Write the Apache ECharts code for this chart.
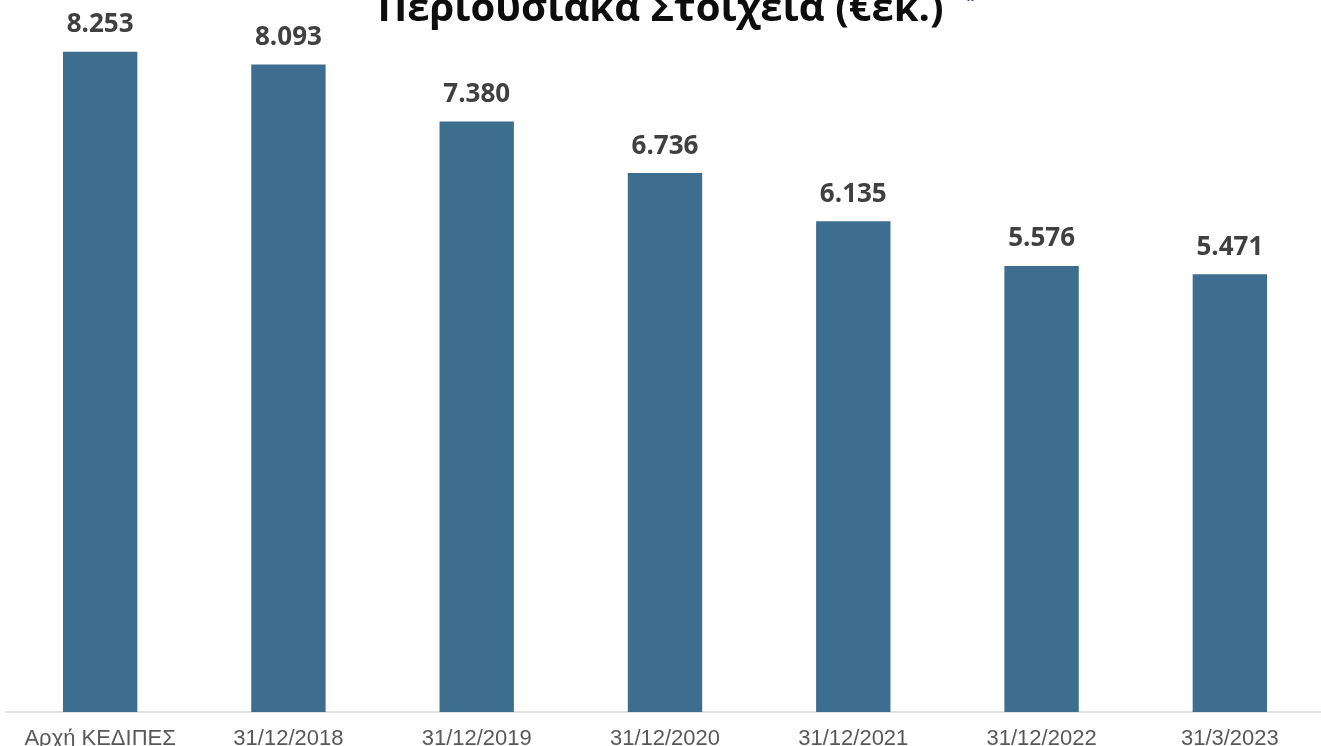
<!DOCTYPE html>
<html><head><meta charset="utf-8">
<script src="https://cdn.jsdelivr.net/npm/echarts@6/dist/echarts.min.js"></script>
<style>html,body{margin:0;padding:0;background:#fff}#c{width:1321px;height:746px}</style>
</head><body><div id="c"></div>
<script>
const categories = ['Αρχή ΚΕΔΙΠΕΣ','31/12/2018','31/12/2019','31/12/2020','31/12/2021','31/12/2022','31/3/2023'];
const values = [8253, 8093, 7380, 6736, 6135, 5576, 5471];
const titleText = 'Περιουσιακά Στοιχεία (€εκ.)';

function fmt(v){ return String(v).replace(/\B(?=(\d{3})+(?!\d))/g,'.'); }

const chart = echarts.init(document.getElementById('c'));
chart.setOption({
  animation:false,
  backgroundColor:'#fff',
  title:{text:titleText, left:'center', top:-15,
    textStyle:{fontFamily:'Open Sans', fontWeight:'bold', fontSize:40, color:'#0d0d0d'}},
  graphic:[{type:'text', left:965, top:-9, style:{text:'*', fontSize:20, fontWeight:'bold', fill:'#1f3864', fontFamily:'Open Sans'}}],
  grid:{left:6, right:-3, top:0, bottom:34, containLabel:false, outerBoundsMode:'none'},
  xAxis:{type:'category', data:categories,
    axisLine:{lineStyle:{color:'#d9d9d9', width:1.5}}, axisTick:{show:false},
    axisLabel:{interval:0, fontFamily:'Liberation Sans', fontSize:22, color:'#595959', margin:16}},
  yAxis:{type:'value', min:0, max:8900, show:false, splitLine:{show:false}},
  series:[{type:'bar', data:values, barWidth:'39.5%',
    itemStyle:{color:'#3d6e8f'},
    label:{show:true, position:'top', distance:14, formatter:p=>fmt(p.value),
      fontFamily:'Open Sans', fontWeight:'bold', fontSize:26, color:'#404040'}}]
});
</script></body></html>
